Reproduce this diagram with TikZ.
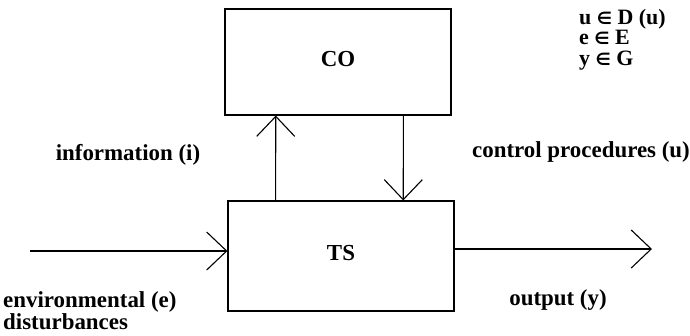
\documentclass[tikz,border=0pt]{standalone}
\usepackage{fontspec}
\setmainfont{Liberation Serif}
\newfontfamily\symfont{DejaVu Sans}
\newcommand{\elem}{{\symfont\fontsize{17}{17}\selectfont ∈}}
\usetikzlibrary{arrows.meta,calc}
\tikzset{block/.style = {draw, line width=1.1bp, minimum width=226bp, inner sep=0pt}}
\tikzset{flow/.style = {line width=1.1bp, -{Straight Barb[length=20bp,width=38bp,line width=1.1bp]}}}
\tikzset{lbl/.style = {inner sep=0pt, font=\fontsize{23}{22}\selectfont\bfseries}}

\begin{document}
\begin{tikzpicture}[x=1bp,y=-1bp]
          \useasboundingbox (0,0) rectangle (690,335);
          % the two blocks
          \node[block, minimum height=106bp, lbl] (co) at (338,62) {\raisebox{7bp}{CO}};
          \node[block, minimum height=110bp, lbl] (ts) at (341,256) {\raisebox{6bp}{TS}};

          % free ends of the outer arrows
          \coordinate (in) at (30,251);
          \coordinate (out) at (652,249);

          \draw[flow] (in) -- (in -| ts.west);
          \draw[flow] (out -| ts.east) -- (out);
          \draw[flow] ($(ts.north west)!0.212!(ts.north east)$) -- ($(co.south west)!0.226!(co.south east)$);
          \draw[flow] ($(co.south west)!0.788!(co.south east)$) -- ($(ts.north west)!0.774!(ts.north east)$);

          \node[lbl] (info) at (128,155) {information (i)};
          \node[lbl] (ctrl) at (581,152) {control procedures (u)};
          \node[lbl] (output) at (558,300) {output (y)};
          \node[lbl, anchor=north west, align=left] (env) at (3,291) {environmental (e)\\disturbances};
          \node[lbl, anchor=north west, align=left, font=\fontsize{22}{20.5}\selectfont\bfseries] (sets) at (579,9) {u \elem{} D (u)\\e \elem{} E\\y \elem{} G};
        \end{tikzpicture}
\end{document}
